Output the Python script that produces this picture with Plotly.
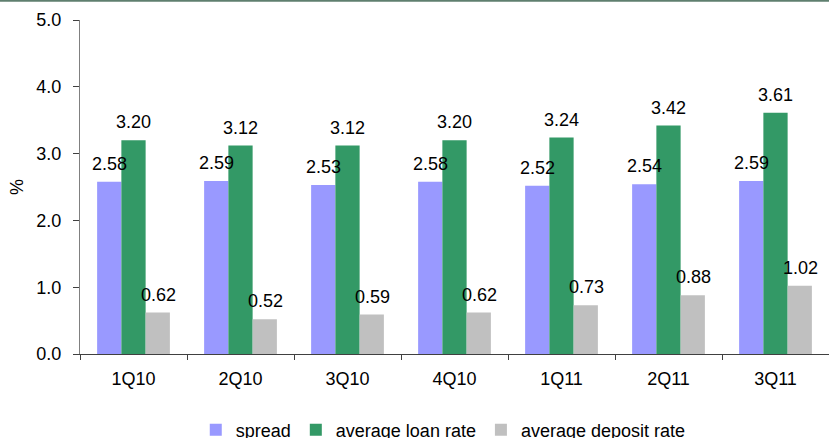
import plotly.graph_objects as go

categories = ["1Q10", "2Q10", "3Q10", "4Q10", "1Q11", "2Q11", "3Q11"]
spread = [2.58, 2.59, 2.53, 2.58, 2.52, 2.54, 2.59]
loan_rate = [3.20, 3.12, 3.12, 3.20, 3.24, 3.42, 3.61]
deposit_rate = [0.62, 0.52, 0.59, 0.62, 0.73, 0.88, 1.02]

series = [
    ("spread", spread, "#9999FF"),
    ("average loan rate", loan_rate, "#339966"),
    ("average deposit rate", deposit_rate, "#C0C0C0"),
]

FONT = "Liberation Sans, Arial, sans-serif"
fig = go.Figure()
for name, vals, col in series:
    fig.add_trace(go.Bar(name=name, x=categories, y=vals, marker_color=col,
                         marker_line_width=0))

annotations = []
bar_px = 24.5
for i, (name, vals, col) in enumerate(series):
    for c, v in zip(categories, vals):
        annotations.append(dict(x=c, y=v, xref="x", yref="y", text=f"{v:.2f}",
                                showarrow=False, yanchor="bottom",
                                xshift=(i - 1) * bar_px, yshift=6,
                                font=dict(size=18, color="#000000", family=FONT)))

fig.update_layout(
    width=829, height=438,
    margin=dict(l=80, r=0, t=20, b=84, autoexpand=False),
    paper_bgcolor="white", plot_bgcolor="white",
    barmode="group", bargap=0.32, bargroupgap=0,
    font=dict(family=FONT, size=18, color="#000000"),
    showlegend=True,
    legend=dict(orientation="h", x=0.485, xanchor="center", y=-0.172, yanchor="top",
                font=dict(size=18), itemwidth=30, traceorder="normal"),
    annotations=annotations,
    shapes=[dict(type="line", xref="paper", yref="paper", x0=-0.2, x1=1.05,
                 y0=1.0575, y1=1.0575, line=dict(color="#5F7F6F", width=2))],
)
fig.update_xaxes(type="category", tickson="boundaries", ticks="outside", ticklen=5,
                 tickcolor="#404040", showline=True, linecolor="#404040", linewidth=1,
                 showgrid=False, tickfont=dict(size=18), ticklabelstandoff=8)
fig.update_yaxes(range=[0, 5], dtick=1, tickformat=".1f", ticks="outside", ticklen=6,
                 tickcolor="#404040", showline=True, linecolor="#808080", linewidth=1,
                 showgrid=False, zeroline=False, tickfont=dict(size=18),
                 ticklabelstandoff=8,
                 title=dict(text="%", font=dict(size=18), standoff=8))

fig.write_html("out.html")
